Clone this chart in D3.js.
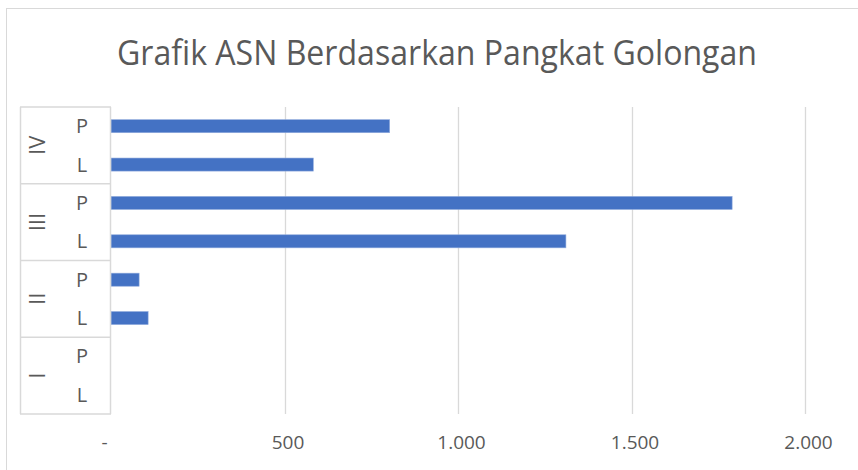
<!DOCTYPE html>
<html>
<head>
<meta charset="utf-8">
<script src="https://cdn.jsdelivr.net/npm/d3@7"></script>
<style>
  body { margin: 0; background: #fff; }
  svg { display: block; font-family: "Open Sans", sans-serif; }
</style>
</head>
<body>
<svg id="chart"></svg>
<script>
const width = 858;
const height = 470;

// categories, top to bottom as drawn
const groups = ["IV", "III", "II", "I"];
const genders = ["P", "L"];
// values per group, same order as groups, split by gender
const valuesP = [803, 1790, 81, 0];
const valuesL = [583, 1311, 107, 0];
const tickValues = [0, 500, 1000, 1500, 2000];
const title = "Grafik ASN Berdasarkan Pangkat Golongan";

const rows = groups.flatMap((g, i) => [
  { group: g, sub: "P", value: valuesP[i] },
  { group: g, sub: "L", value: valuesL[i] },
]);

const plot = { left: 111, right: 805, top: 107, bottom: 414 };
const tableLeft = 20;
const textColor = "#595959";
const lineColor = "#d9d9d9";

const svg = d3.select("svg#chart").attr("width", width).attr("height", height);

// chart border (clipped by the window on the right and bottom)
svg.append("rect")
  .attr("x", 6.5).attr("y", 8.5)
  .attr("width", 900).attr("height", 500)
  .attr("fill", "#fff").attr("stroke", lineColor);

// title
svg.append("text")
  .attr("x", 437).attr("y", 65)
  .attr("text-anchor", "middle")
  .attr("font-size", 34)
  .attr("fill", textColor)
  .attr("textLength", 640)
  .attr("lengthAdjust", "spacingAndGlyphs")
  .text(title);

const x = d3.scaleLinear().domain([0, 2000]).range([plot.left, plot.right]);
const y = d3.scaleBand()
  .domain(d3.range(rows.length))
  .range([plot.top, plot.bottom])
  .paddingInner(0.66)
  .paddingOuter(0.33);

// vertical gridlines
svg.append("g")
  .selectAll("line")
  .data(tickValues.filter((d) => d > 0))
  .join("line")
  .attr("x1", (d) => Math.round(x(d)) + 0.5)
  .attr("x2", (d) => Math.round(x(d)) + 0.5)
  .attr("y1", plot.top)
  .attr("y2", plot.bottom)
  .attr("stroke", lineColor)
  .attr("stroke-width", 1.3);

// value axis labels
const xAxis = svg.append("g")
  .attr("transform", `translate(0,${plot.bottom + 18})`)
  .call(d3.axisBottom(x)
    .tickValues(tickValues)
    .tickSize(0)
    .tickFormat((d) => (d === 0 ? "-" : d3.format(",")(d).replace(/,/g, "."))));
xAxis.select(".domain").remove();
xAxis.selectAll("text")
  .attr("font-family", "Open Sans, sans-serif")
  .attr("font-size", 19)
  .attr("fill", textColor)
  .attr("dx", (d) => (d === 0 ? -7 : 3));

// bars
svg.append("g")
  .selectAll("rect")
  .data(rows)
  .join("rect")
  .attr("x", x(0))
  .attr("y", (_, i) => y(i))
  .attr("height", y.bandwidth())
  .attr("width", (d) => x(d.value) - x(0))
  .attr("fill", "#4472c4")
  .attr("stroke", "#8faadc")
  .attr("stroke-width", 0.6);

// category axis: table with group and sub labels
const step = y.step();
const groupHeight = step * genders.length;
const cat = svg.append("g");

cat.append("line")
  .attr("x1", plot.left - 0.5).attr("x2", plot.left - 0.5)
  .attr("y1", plot.top).attr("y2", plot.bottom)
  .attr("stroke", lineColor).attr("stroke-width", 1.5);
cat.append("line")
  .attr("x1", tableLeft + 0.5).attr("x2", tableLeft + 0.5)
  .attr("y1", plot.top).attr("y2", plot.bottom)
  .attr("stroke", lineColor).attr("stroke-width", 1.5);
cat.selectAll("line.sep")
  .data(d3.range(groups.length + 1))
  .join("line")
  .attr("class", "sep")
  .attr("x1", tableLeft).attr("x2", plot.left)
  .attr("y1", (i) => plot.top + i * groupHeight)
  .attr("y2", (i) => plot.top + i * groupHeight)
  .attr("stroke", lineColor).attr("stroke-width", 1.5);

cat.selectAll("text.sub")
  .data(rows)
  .join("text")
  .attr("class", "sub")
  .attr("x", 82)
  .attr("y", (_, i) => y(i) + y.bandwidth() / 2)
  .attr("dy", "0.35em")
  .attr("text-anchor", "middle")
  .attr("font-size", 20)
  .attr("fill", textColor)
  .text((d) => d.sub);

cat.selectAll("text.group")
  .data(groups)
  .join("text")
  .attr("class", "group")
  .attr("transform", (_, i) =>
    `translate(37,${plot.top + (i + 0.5) * groupHeight}) rotate(-90)`)
  .attr("dy", "0.35em")
  .attr("text-anchor", "middle")
  .attr("font-size", 22)
  .attr("fill", textColor)
  .text((d) => d);
</script>
</body>
</html>
